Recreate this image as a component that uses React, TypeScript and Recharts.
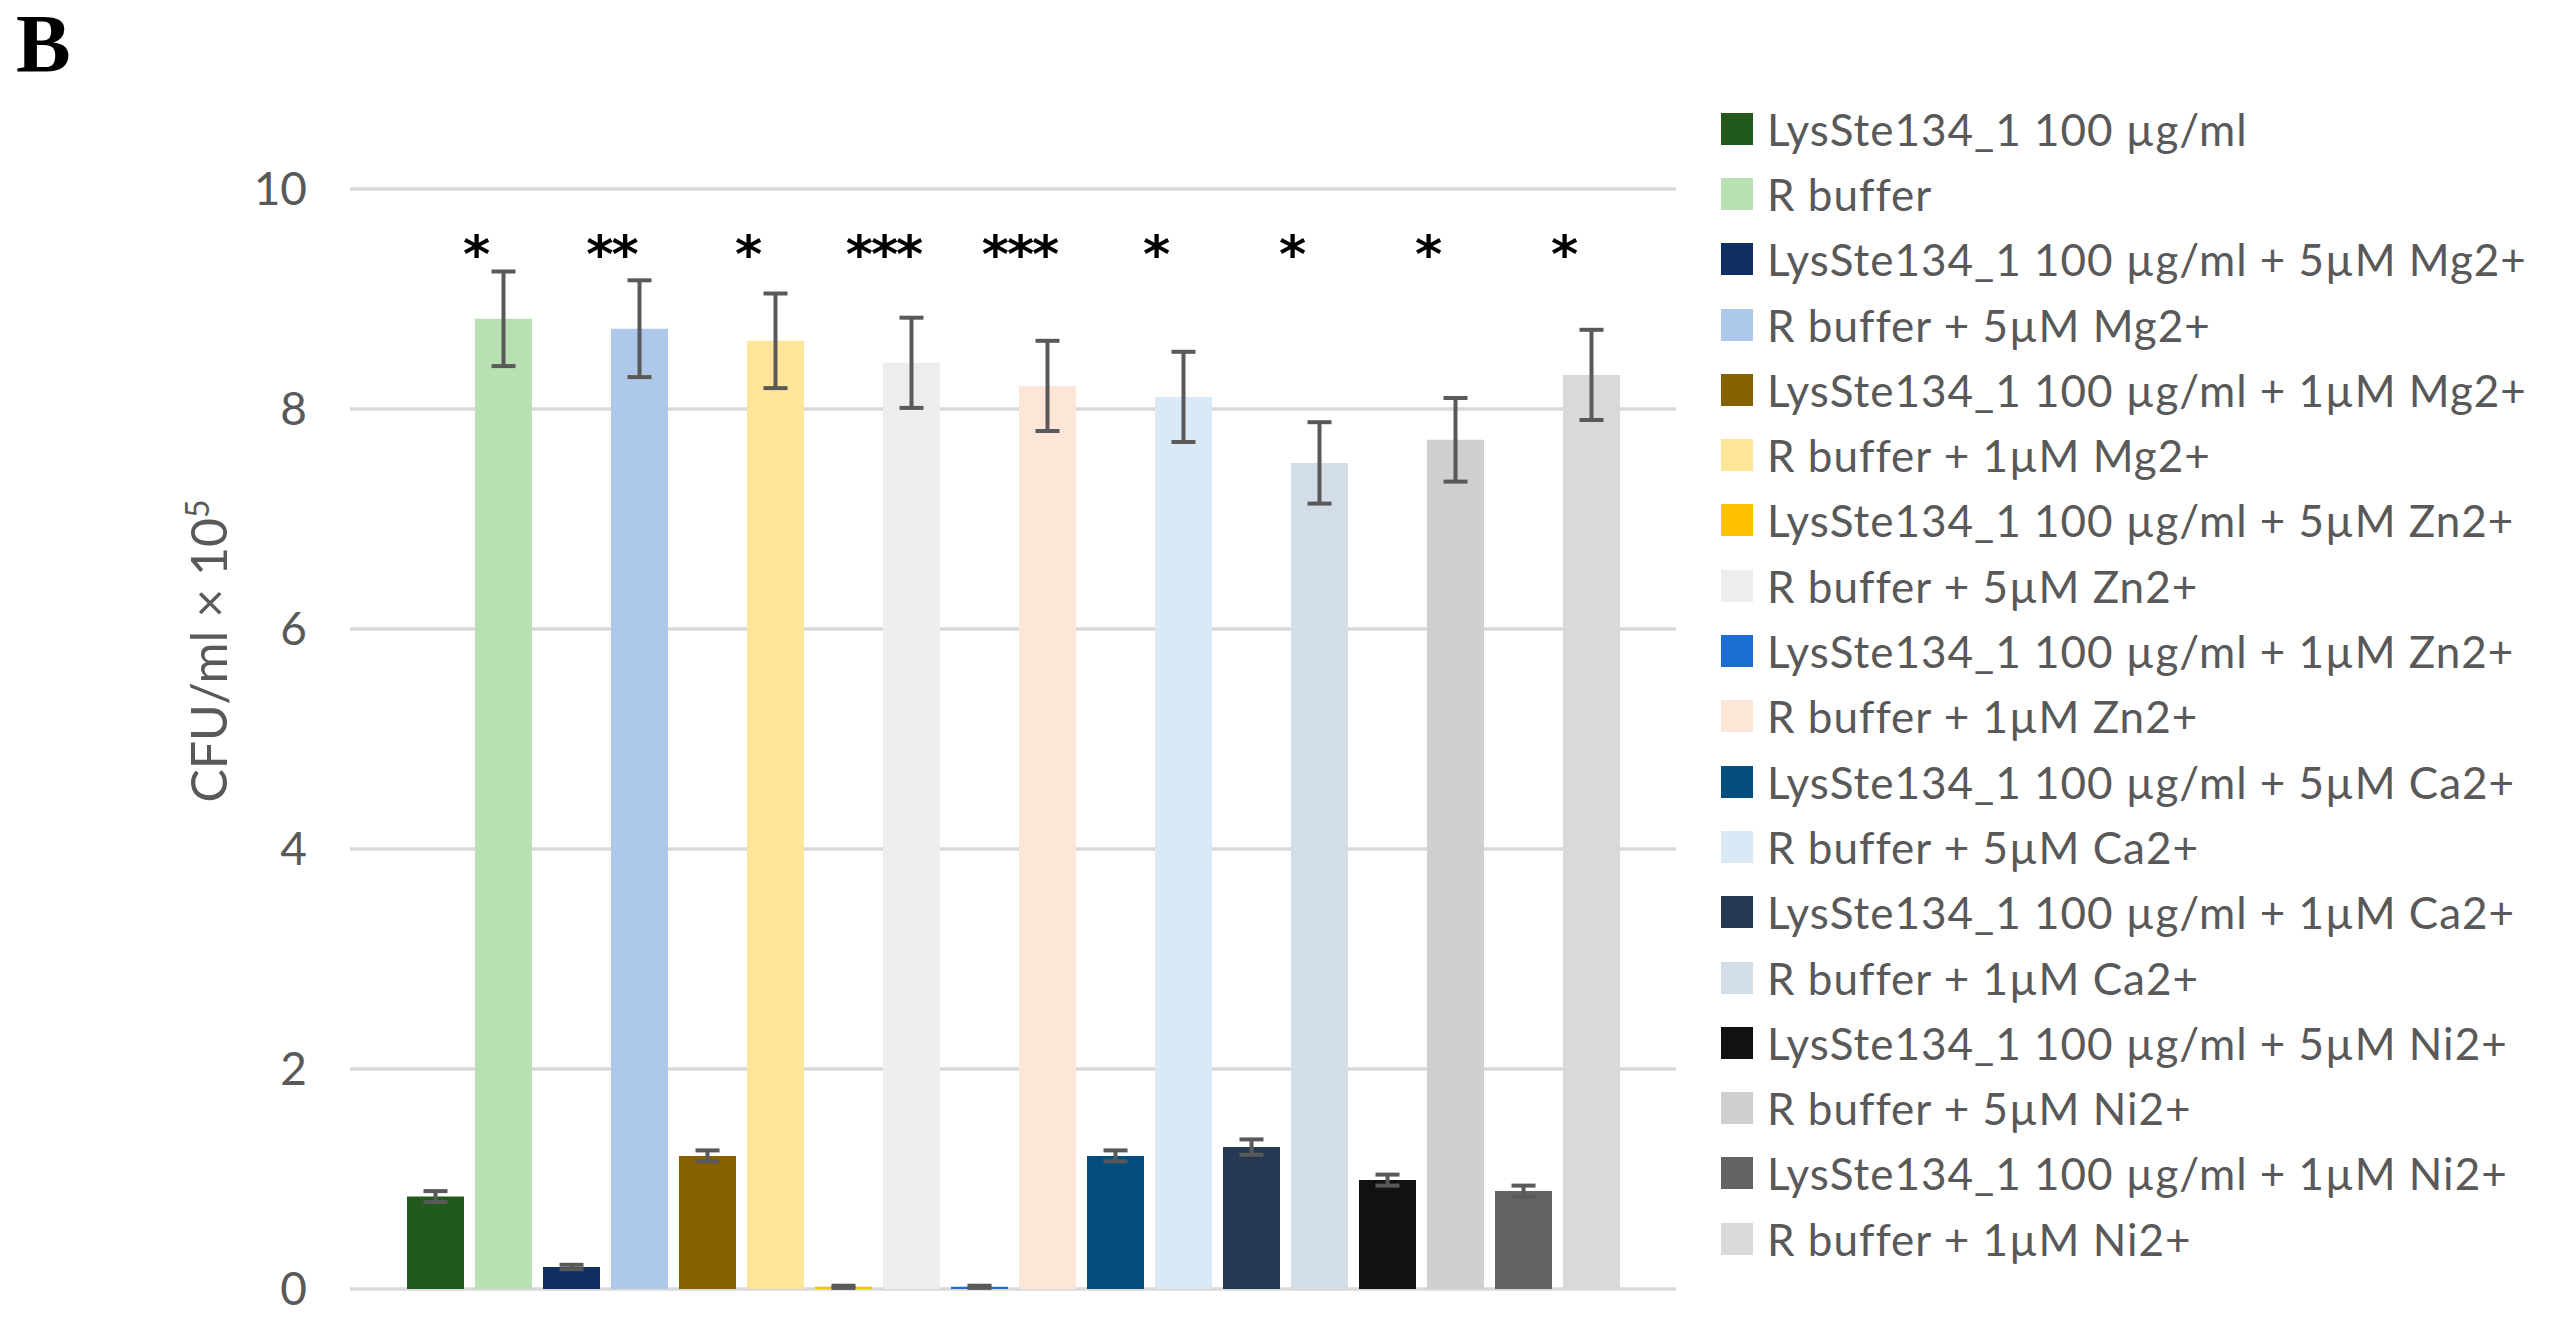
import React from "react";
import {
  BarChart,
  Bar,
  XAxis,
  YAxis,
  CartesianGrid,
  ErrorBar,
  LabelList,
  Label,
  Legend,
} from "recharts";

const seriesNames = [
  "LysSte134_1 100 µg/ml",
  "R buffer",
  "LysSte134_1 100 µg/ml + 5µM Mg2+",
  "R buffer + 5µM Mg2+",
  "LysSte134_1 100 µg/ml + 1µM Mg2+",
  "R buffer + 1µM Mg2+",
  "LysSte134_1 100 µg/ml + 5µM Zn2+",
  "R buffer + 5µM Zn2+",
  "LysSte134_1 100 µg/ml + 1µM Zn2+",
  "R buffer + 1µM Zn2+",
  "LysSte134_1 100 µg/ml + 5µM Ca2+",
  "R buffer + 5µM Ca2+",
  "LysSte134_1 100 µg/ml + 1µM Ca2+",
  "R buffer + 1µM Ca2+",
  "LysSte134_1 100 µg/ml + 5µM Ni2+",
  "R buffer + 5µM Ni2+",
  "LysSte134_1 100 µg/ml + 1µM Ni2+",
  "R buffer + 1µM Ni2+",
];

// CFU/ml x 10^5
const means = [
  0.84, 8.82, 0.2, 8.73, 1.21, 8.62, 0.02, 8.42, 0.02, 8.21,
  1.21, 8.11, 1.29, 7.51, 0.99, 7.72, 0.89, 8.31,
];
const errors = [
  0.05, 0.43, 0.02, 0.44, 0.05, 0.43, 0.01, 0.41, 0.01, 0.41,
  0.05, 0.41, 0.07, 0.37, 0.05, 0.38, 0.05, 0.41,
];
const stars = [
  "", "*", "", "**", "", "*", "", "***", "", "***",
  "", "*", "", "*", "", "*", "", "*",
];
const yTicks = [0, 2, 4, 6, 8, 10];
const starLevel = 9.45;

const colors = [
  "#225A1D", "#B9E0B2", "#0F2F62", "#AEC8E9", "#876000", "#FFE597",
  "#FFC000", "#EDEDED", "#1B6FD1", "#FDE5D8", "#044E7D", "#DAE9F6",
  "#253A52", "#D3DDE8", "#111111", "#D0CECE", "#636363", "#D9D9D9",
];

const row: Record<string, number | string> = { name: "all" };
means.forEach((v, i) => {
  row[`v${i}`] = v;
  row[`e${i}`] = errors[i];
});
const data = [row];

const FONT = "Lato, 'Open Sans', sans-serif";
const GREY = "#595959";

const starLabel = (i: number) => (props: any) => {
  const vb = props.viewBox || props;
  const { x, y, width, height } = vb;
  if (!stars[i] || !height) return null;
  const base = y + height;
  const perUnit = height / means[i];
  const cy = base - starLevel * perUnit;
  return (
    <text
      x={x + width / 2 - 28}
      y={cy + 22}
      textAnchor="middle"
      fontFamily="'DejaVu Sans', sans-serif"
      fontWeight="bold"
      fontSize={52}
      letterSpacing={-2}
      fill="#000"
    >
      {stars[i]}
    </text>
  );
};

const yTitle = (props: any) => {
  const { viewBox } = props;
  const cx = viewBox.x + 227;
  const cy = viewBox.y + viewBox.height / 2 - 88;
  return (
    <text
      x={cx}
      y={cy}
      transform={`rotate(-90, ${cx}, ${cy})`}
      textAnchor="middle"
      fontFamily={FONT}
      fontSize={50}
      fill={GREY}
    >
      CFU/ml × 10
      <tspan dy={-18} fontSize={32}>
        5
      </tspan>
    </text>
  );
};

const legendContent = (props: any) => (
  <div style={{ fontFamily: FONT, fontSize: 44, color: GREY, letterSpacing: 1 }}>
    {(props.payload || []).map((p: any, i: number) => (
      <div
        key={i}
        style={{ display: "flex", alignItems: "center", height: 65.3, whiteSpace: "nowrap" }}
      >
        <span
          style={{
            display: "inline-block",
            width: 32,
            height: 32,
            background: p.color,
            marginRight: 14,
            flexShrink: 0,
          }}
        />
        <span>{p.value}</span>
      </div>
    ))}
  </div>
);

const legendOrder = (item: any) => Number(String(item.dataKey).slice(1));

export default function App() {
  return (
    <div style={{ position: "absolute", left: 0, top: 0, width: 2555, height: 1344, background: "#fff" }}>
      <div
        style={{
          position: "absolute",
          left: 16,
          top: 3,
          fontFamily: "'Liberation Serif', 'Times New Roman', serif",
          fontWeight: "bold",
          fontSize: 82,
          lineHeight: "82px",
          color: "#000",
        }}
      >
        B
      </div>
      <BarChart
        width={2555}
        height={1344}
        data={data}
        margin={{ top: 189, right: 879, bottom: 55, left: 0 }}
        barSize={57}
        barGap={11}
      >
        <CartesianGrid vertical={false} stroke="#D9D9D9" strokeWidth={3.5} />
        <XAxis dataKey="name" hide />
        <YAxis
          width={350}
          domain={[0, 10]}
          ticks={yTicks}
          axisLine={false}
          tickLine={false}
          tickSize={0}
          tickMargin={43}
          tick={{ fontFamily: FONT, fontSize: 46, fill: GREY }}
        >
          <Label content={yTitle} />
        </YAxis>
        <Legend
          layout="vertical"
          align="center"
          verticalAlign="middle"
          itemSorter={legendOrder}
          content={legendContent}
          wrapperStyle={{ left: 1721, top: 96, width: 834 }}
        />
        {seriesNames.map((name, i) => (
          <Bar
            key={name}
            dataKey={`v${i}`}
            name={name}
            fill={colors[i]}
            isAnimationActive={false}
          >
            <ErrorBar
              dataKey={`e${i}`}
              width={12}
              strokeWidth={4}
              stroke={GREY}
              direction="y"
            />
            {stars[i] ? <LabelList dataKey={`v${i}`} content={starLabel(i)} /> : null}
          </Bar>
        ))}
      </BarChart>
    </div>
  );
}
